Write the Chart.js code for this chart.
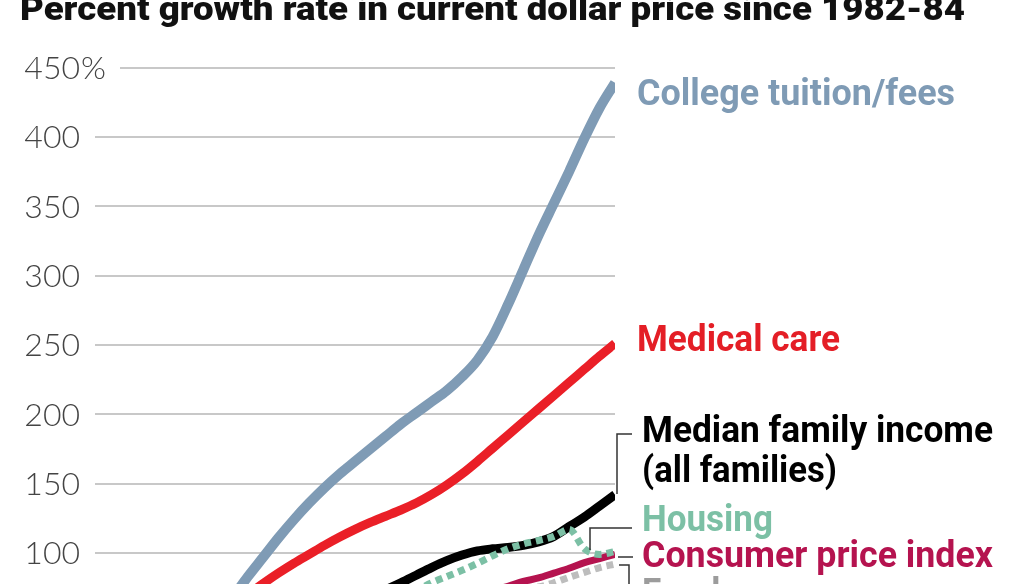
<!DOCTYPE html>
<html>
<head>
<meta charset="utf-8">
<script src="https://cdn.jsdelivr.net/npm/chart.js@4"></script>
<style>
  html, body { margin:0; padding:0; background:#fff; }
  #wrap { position:relative; width:1024px; height:584px; overflow:hidden; }
</style>
</head>
<body>
<div id="wrap"><canvas id="c"></canvas></div>
<script>
// Data (percent growth since 1982-84)
const years    = [1984,1985,1986,1987,1988,1989,1990,1991,1992,1993,1994,1995,1996,1997,1998,1999,2000,2001,2002,2003,2004,2005,2006,2007,2008,2009,2010,2011,2012,2013,2014];
const college  = [2,14,27,40,54,68,83,97,111,124,136,147,157,166,175,184,193,201,209,217,227,239,256,279,304,329,352,375,399,421,439];
const medical  = [16,25,34,43,52,61,70,78,85.5,92.5,99,105.5,111.5,117,122,126.5,131,136,142,149,157,166,175.5,185,194.5,204,213.5,223,232.5,242,251];
const income   = [5,10,15,20,25,30,34,38,42,46,50,55,60,65,69,73.5,78.5,84,89.5,94.5,98.5,101.5,103,104,105.5,108,112,119,126,134,142];
const housing  = [2,6,10,14,18,22,26,30,34,38,42,46,50,54,58,63,68,73,78.5,83,87.5,92.5,98,103,106.5,109,112,117,103,99,101];
const cpi      = [3,6,9,12,16,20,24,28,31,34,37,40,43,46,48,51,55,58,61,64,67,70,73,76,79.5,82,85.5,89,93,96,99];
const food     = [3,5,8,12,16,21,27,31,33,35,38,40,43,45,47,50,52,54,57,59,62,66,68,71,73.5,75.5,78.5,82.5,86,89.5,92];

const yTicks      = [100,150,200,250,300,350,400,450];
const yTickLabels = ['100','150','200','250','300','350','400','450%'];

const titleText = 'Percent growth rate in current dollar price since 1982-84';

(() => {
  'use strict';

  const pts = arr => arr.map((v,i) => ({x: years[i], y: v}));

  const line = (label, arr, color, width, dash) => ({
    label, data: pts(arr),
    borderColor: color, borderWidth: width,
    borderDash: dash || [], borderCapStyle: 'butt', borderJoinStyle: 'round',
    pointRadius: 0, cubicInterpolationMode: 'monotone', fill: false
  });

  // first dataset is drawn on top
  const datasets = [
    line('College tuition/fees', college, '#7f9bb5', 10),
    line('Medical care', medical, '#ea1f27', 9),
    line('Housing', housing, '#7cc0a5', 7, [7,5]),
    line('Median family income (all families)', income, '#000000', 9),
    line('Consumer price index', cpi, '#b5134f', 7),
    line('Food', food, '#bdbdbd', 7, [7,5])
  ];

  function fitText(ctx, str, x, y, w){
    const m = ctx.measureText(str).width;
    ctx.save();
    ctx.translate(x, y);
    ctx.scale(w / m, 1);
    ctx.fillText(str, 0, 0);
    ctx.restore();
  }

  const LABEL_FONT = 'bold 36px Roboto, "Liberation Sans", sans-serif';
  const labels = [
    {t:'College tuition/fees', x:637, y:105, w:318, c:'#7f9bb5'},
    {t:'Medical care',         x:637, y:351, w:203, c:'#e41e26'},
    {t:'Median family income', x:642, y:442, w:351, c:'#000000'},
    {t:'(all families)',       x:642, y:482, w:195, c:'#000000'},
    {t:'Housing',              x:642, y:531, w:131, c:'#7cc0a5'},
    {t:'Consumer price index', x:642, y:567, w:351, c:'#b5134f'},
    {t:'Food',                 x:642, y:604, w:null, c:'#9c9c9c'}
  ];
  const leaders = [
    [[632,434],[617,434],[617,494]],
    [[632,528],[590,528],[590,550]],
    [[633,557],[618,557]],
    [[619,565],[629,565],[629,590]]
  ];

  const decor = {
    id: 'decor',
    beforeDatasetsDraw(chart){
      const {ctx, chartArea, scales:{y}} = chart;
      ctx.save();
      ctx.strokeStyle = '#c8c8c8';
      ctx.lineWidth = 2;
      yTicks.forEach(v => {
        const py = Math.round(y.getPixelForValue(v));
        ctx.beginPath();
        ctx.moveTo(v === 450 ? 120 : chartArea.left, py);
        ctx.lineTo(chartArea.right, py);
        ctx.stroke();
      });
      ctx.restore();
    },
    afterDraw(chart){
      const {ctx, scales:{y}} = chart;
      ctx.save();
      // y tick labels
      ctx.fillStyle = '#444';
      ctx.font = '300 32px Lato, "Open Sans", sans-serif';
      ctx.textBaseline = 'alphabetic';
      yTicks.forEach((v,i) => {
        const py = y.getPixelForValue(v) + 11.5;
        ctx.textAlign = 'right';
        ctx.fillText(String(v), 80, py);
        if (yTickLabels[i].endsWith('%')) {
          ctx.textAlign = 'left';
          ctx.fillText('%', 81, py);
        }
      });
      // title
      ctx.textAlign = 'left';
      ctx.fillStyle = '#111';
      ctx.font = '900 34px Roboto, "Liberation Sans", sans-serif';
      fitText(ctx, titleText, 20, 20, 945);
      // series labels
      ctx.font = LABEL_FONT;
      const ref = labels[4];
      const k = ref.w / ctx.measureText(ref.t).width;
      labels.forEach(l => {
        ctx.fillStyle = l.c;
        const w = l.w || ctx.measureText(l.t).width * k;
        fitText(ctx, l.t, l.x, l.y, w);
      });
      // leader lines
      ctx.strokeStyle = '#333';
      ctx.lineWidth = 1.5;
      leaders.forEach(p => {
        ctx.beginPath();
        ctx.moveTo(p[0][0], p[0][1]);
        for (let i = 1; i < p.length; i++) ctx.lineTo(p[i][0], p[i][1]);
        ctx.stroke();
      });
      ctx.restore();
    }
  };

  new Chart(document.getElementById('c').getContext('2d'), {
    type: 'line',
    data: { datasets },
    options: {
      responsive: true, maintainAspectRatio: false, animation: false,
      layout: { padding: { left: 95, right: 409, top: 67.5, bottom: 0 } },
      plugins: { legend: { display: false }, tooltip: { enabled: false } },
      scales: {
        x: { type: 'linear', min: 1980, max: 2014, display: false },
        y: { type: 'linear', min: 77.65, max: 450, display: false }
      }
    },
    plugins: [decor]
  });
})();
</script>
</body>
</html>
